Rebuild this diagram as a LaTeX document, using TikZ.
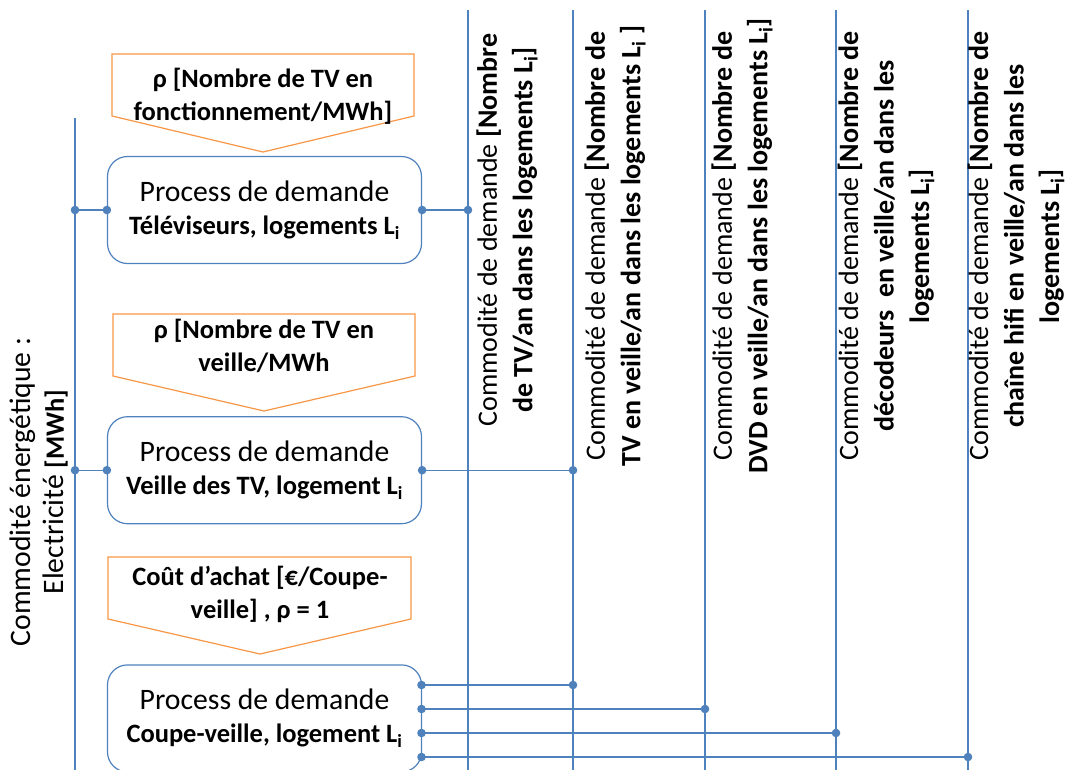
\documentclass[tikz,border=0pt]{standalone}
\usepackage{fontspec}
\setmainfont{Carlito}
\usepackage{tikz}
\usetikzlibrary{positioning}
\definecolor{trait}{HTML}{4F81BD}
\definecolor{cuivre}{HTML}{F79646}
\newcommand\fproc{\fontsize{29.7}{33}\selectfont}
\newcommand\fgras{\fontsize{26.5}{33}\selectfont}
\newcommand\fdem{\fontsize{28}{35.5}\selectfont}
\tikzset{proc/.style={draw=trait,line width=1.2pt,rounded corners=20pt,minimum width=314pt,minimum height=107pt,align=center,inner sep=0pt,font=\fproc},
ratio/.style={align=center,inner sep=0pt,font=\fgras\bfseries},
dem/.style={rotate=90,align=center,inner sep=0pt,font=\fdem},
cadre/.style={draw=cuivre,line width=1.2pt},
ligne/.style={draw=trait,line width=1.3pt},
lien/.style={draw=trait,line width=2.3pt}}

\begin{document}
\begin{tikzpicture}[x=1pt,y=-1pt]
\useasboundingbox (0,0) rectangle (1068,769);
\clip (0,0) rectangle (1068,769);
% process de demande
\node[proc] (tv) at (264.5,210) {Process de demande\\\textbf{\fgras Téléviseurs, logements L\textsubscript{i}}};
\node[proc,below=152pt of tv] (veille) {Process de demande\\\textbf{\fgras Veille des TV, logement L\textsubscript{i}}};
\node[proc,below=140pt of veille] (coupe) {Process de demande\\\textbf{\fgras Coupe-veille, logement L\textsubscript{i}}};
% ratios
\draw[cadre] (112,54) -- (414,54) -- (414,116) -- (263,152) -- (112,116) -- cycle;
\node[ratio] (rtv) at (263,96) {ρ [Nombre de TV en\\fonctionnement/MWh]};
\draw[cadre] (113,314) -- (415,314) -- (415,376) -- (264,411) -- (113,376) -- cycle;
\node[ratio] (rveille) at (264,346) {ρ [Nombre de TV en\\veille/MWh};
\draw[cadre] (108,557) -- (411,557) -- (411,619) -- (260,654) -- (108,619) -- cycle;
\node[ratio] (rcoupe) at (260,594) {Coût d’achat [€/Coupe-\\veille] , ρ = 1};
% commodites
\coordinate (el) at (75,118);
\coordinate (ctv) at (468,10);
\coordinate (cveille) at (573,10);
\coordinate (cdvd) at (705,10);
\coordinate (cdec) at (836,10);
\coordinate (chifi) at (968,10);
\draw[ligne] (el) -- ++(0,660);
\draw[ligne] (ctv) -- ++(0,770);
\draw[ligne] (cveille) -- ++(0,770);
\draw[ligne] (cdvd) -- ++(0,770);
\draw[ligne] (cdec) -- ++(0,770);
\draw[ligne] (chifi) -- ++(0,770);
\node[dem,font=\fproc] (lel) at (39,492) {Commodité énergétique :\\Electricité \textbf{\fgras[MWh]}};
\node[dem] (ltv) at (507,230) {Commodité de demande \textbf{[Nombre}\\\textbf{de TV/an dans les logements L\textsubscript{i}]}};
\node[dem] (lveille) at (615,246) {Commodité de demande \textbf{[Nombre de}\\\textbf{TV en veille/an dans les logements L\textsubscript{i} ]}};
\node[dem] (ldvd) at (742,246) {Commodité de demande \textbf{[Nombre de}\\\textbf{DVD en veille/an dans les logements L\textsubscript{i}]}};
\node[dem] (ldec) at (886,246) {Commodité de demande \textbf{[Nombre de}\\\textbf{décodeurs\ \ en veille/an dans les}\\\textbf{logements L\textsubscript{i}]}};
\node[dem] (lhifi) at (1016,246) {Commodité de demande \textbf{[Nombre de}\\\textbf{chaîne hifi en veille/an dans les}\\\textbf{logements L\textsubscript{i}]}};
% liens
\draw[ligne] (tv.west) -- (tv.west -| el);
\fill[trait] (tv.west) circle (4.3) (tv.west -| el) circle (4.3);
\draw[ligne] (veille.west) -- (veille.west -| el);
\fill[trait] (veille.west) circle (4.3) (veille.west -| el) circle (4.3);
\draw[ligne] (tv.east) -- (tv.east -| ctv);
\fill[trait] (tv.east) circle (4.3) (tv.east -| ctv) circle (4.3);
\draw[ligne] (veille.east) -- (veille.east -| cveille);
\fill[trait] (veille.east) circle (4.3) (veille.east -| cveille) circle (4.3);
\coordinate (k1) at (421.5,685);
\coordinate (k2) at (421.5,709);
\coordinate (k3) at (421.5,733);
\coordinate (k4) at (421.5,757);
\draw[ligne] (k1) -- (k4);
\draw[lien] (k1) -- (k1 -| cveille);
\draw[lien] (k2) -- (k2 -| cdvd);
\draw[lien] (k3) -- (k3 -| cdec);
\draw[lien] (k4) -- (k4 -| chifi);
\fill[trait] (k1) circle (4.3) (k1 -| cveille) circle (4.3);
\fill[trait] (k2) circle (4.3) (k2 -| cdvd) circle (4.3);
\fill[trait] (k3) circle (4.3) (k3 -| cdec) circle (4.3);
\fill[trait] (k4) circle (4.3) (k4 -| chifi) circle (4.3);
\end{tikzpicture}
\end{document}
